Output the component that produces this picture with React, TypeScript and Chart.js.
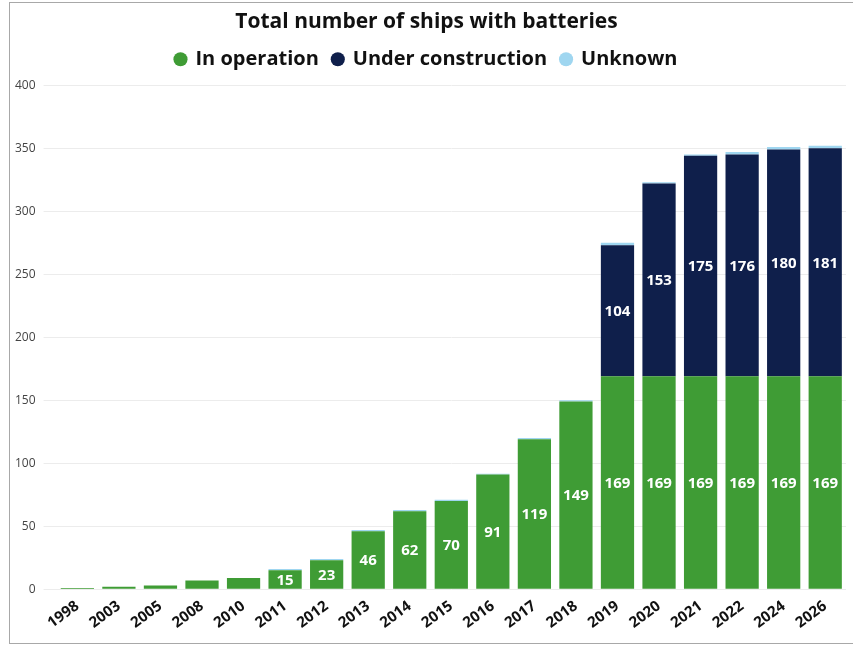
import React, { useEffect, useRef } from "react";
import { Chart, registerables } from "chart.js";

Chart.register(...registerables);

const years = ["1998","2003","2005","2008","2010","2011","2012","2013","2014","2015","2016","2017","2018","2019","2020","2021","2022","2024","2026"];
const inOperation = [1, 2, 3, 7, 9, 15, 23, 46, 62, 70, 91, 119, 149, 169, 169, 169, 169, 169, 169];
const underConstruction = [0, 0, 0, 0, 0, 0, 0, 0, 0, 0, 0, 0, 0, 104, 153, 175, 176, 180, 181];
const unknown = [0, 0, 0, 0, 0, 1, 1, 1, 1, 1, 0.6, 1, 1, 2, 1, 1, 2, 2, 2];
const yTicks = [0, 50, 100, 150, 200, 250, 300, 350, 400];

const FONT = "'Open Sans', 'DejaVu Sans', sans-serif";

const labelPlugin = {
  id: "barLabels",
  afterDatasetsDraw(chart: any) {
    const ctx = chart.ctx;
    ctx.save();
    ctx.fillStyle = "#ffffff";
    ctx.font = `bold 15px ${FONT}`;
    ctx.textAlign = "center";
    ctx.textBaseline = "middle";
    [0, 1].forEach((di) => {
      const meta = chart.getDatasetMeta(di);
      const data = chart.data.datasets[di].data as number[];
      meta.data.forEach((el: any, i: number) => {
        const v = data[i];
        if (v >= 10) {
          ctx.fillText(String(v), el.x, (el.y + el.base) / 2 + 1);
        }
      });
    });
    ctx.restore();
  },
};

const legendGapPlugin = {
  id: "legendGap",
  beforeUpdate(chart: any) {
    const lg = chart.legend;
    if (lg && !lg.__patched) {
      const orig = lg.fit;
      lg.fit = function () {
        orig.call(this);
        this.height += 6;
      };
      lg.__patched = true;
    }
  },
};

export default function App() {
  const ref = useRef<HTMLCanvasElement>(null);
  useEffect(() => {
    if (!ref.current) return;
    const chart = new Chart(ref.current, {
      type: "bar",
      data: {
        labels: years,
        datasets: [
          { label: "In operation", data: inOperation, backgroundColor: "#3f9c35", categoryPercentage: 0.8, barPercentage: 1 },
          { label: "Under construction", data: underConstruction, backgroundColor: "#0f1f4b", categoryPercentage: 0.8, barPercentage: 1 },
          { label: "Unknown", data: unknown, backgroundColor: "#9fd6f0", categoryPercentage: 0.8, barPercentage: 1 },
        ],
      },
      options: {
        animation: false,
        responsive: false,
        layout: { padding: { left: 7, right: 7, top: 7, bottom: 14 } },
        plugins: {
          tooltip: { enabled: false },
          title: {
            display: true,
            text: "Total number of ships with batteries",
            color: "#111",
            font: { family: FONT, size: 21, weight: "bold" },
            padding: { top: 2, bottom: 1 },
          },
          legend: {
            display: true,
            labels: {
              usePointStyle: true,
              pointStyle: "circle",
              boxWidth: 10,
              boxHeight: 10,
              padding: 14,
              color: "#111",
              font: { family: FONT, size: 20, weight: "bold" },
            },
          },
        },
        scales: {
          x: {
            stacked: true,
            grid: { display: false },
            border: { display: false },
            ticks: {
              color: "#111",
              font: { family: FONT, size: 15, weight: "bold" },
              minRotation: 36,
              maxRotation: 36,
              autoSkip: false,
              padding: 0,
            },
          },
          y: {
            stacked: true,
            min: 0,
            max: 400,
            afterBuildTicks: (axis: any) => {
              axis.ticks = yTicks.map((v) => ({ value: v }));
            },
            grid: { color: "#ececec", tickLength: 13, tickColor: "#ececec" },
            border: { display: false },
            ticks: {
              color: "#444",
              font: { family: FONT, size: 12 },
              padding: 8,
            },
          },
        },
      },
      plugins: [labelPlugin, legendGapPlugin],
    });
    return () => chart.destroy();
  }, []);
  return (
    <div style={{ position: "fixed", left: 0, top: 0, width: 853, height: 646, background: "#fff", overflow: "hidden" }}>
      <div style={{ position: "absolute", left: 9, top: 2, width: 900, height: 640, border: "1px solid #a8a8a8" }} />
      <canvas ref={ref} width={853} height={646} style={{ position: "absolute", left: 0, top: 0 }} />
    </div>
  );
}
